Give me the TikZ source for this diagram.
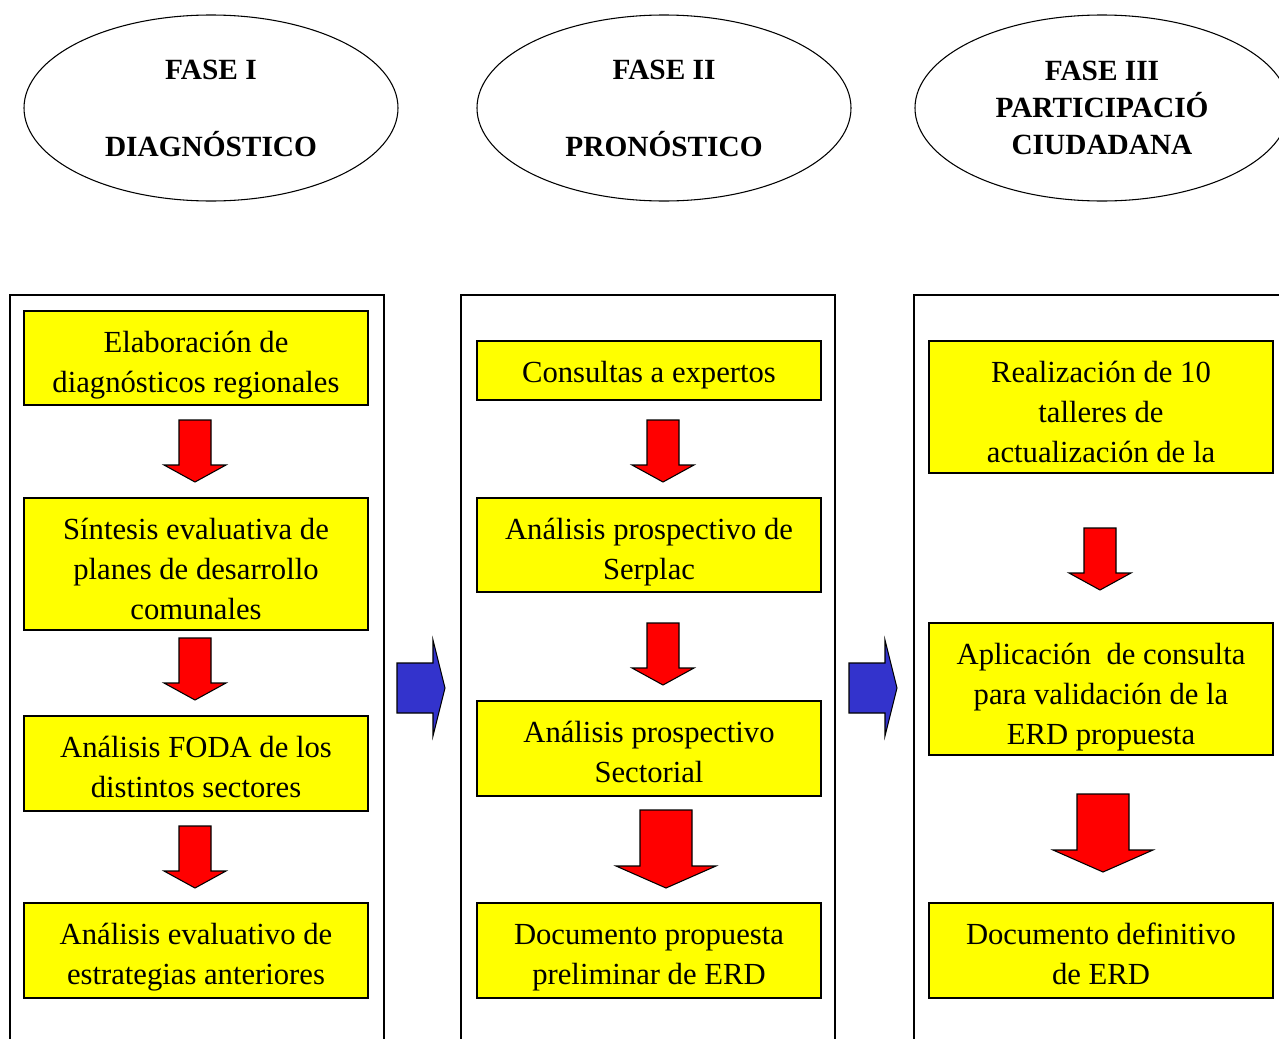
\documentclass[tikz,border=0pt]{standalone}
\usepackage{fontspec}
\setmainfont{Liberation Serif}
\usetikzlibrary{shapes.geometric,positioning,calc}

\definecolor{boxyellow}{RGB}{255,255,0}
\definecolor{arrowred}{RGB}{255,0,0}
\definecolor{arrowblue}{RGB}{51,51,204}

\tikzset{
  fase/.style={ellipse, draw, line width=0.8pt, minimum width=280.5pt, minimum height=139.5pt,
    align=center, font=\fontsize{22}{27.75}\selectfont\bfseries},
  tarea/.style={rectangle, draw, line width=1pt, fill=boxyellow, text width=250pt,
    align=flush center, inner xsep=4pt, inner ysep=0pt, text height=31pt,
    font=\fontsize{23}{30}\selectfont},
  panel/.style={draw, line width=0.8pt},
  redarrow/.style={draw, line width=0.8pt, fill=arrowred},
  bluearrow/.style={draw, line width=0.8pt, fill=arrowblue}
}

\begin{document}
\begin{tikzpicture}[x=0.75pt, y=-0.75pt]
    \useasboundingbox (0,0) rectangle (1279,1039);

    % fases
    \node [fase] (fase1) at (211,108) {FASE I\\[30pt]DIAGNÓSTICO};
    \node [fase] (fase2) at (664,108) {FASE II\\[30pt]PRONÓSTICO};
    \node [fase] (fase3) at (1102,108) {FASE III\\PARTICIPACIÓ\\CIUDADANA};

    % paneles
    \draw [panel] (10,1039) -- (10,295) -- (384,295) -- (384,1039);
    \draw [panel] (461,1039) -- (461,295) -- (835,295) -- (835,1039);
    \draw [panel] (914,1039) -- (914,295) -- (1279,295);

    % fase I
    \node [tarea, text depth=39.5pt] (diag1) at (196,358) {Elaboración de\\diagnósticos regionales};
    \node [tarea, text depth=68pt] (diag2) at (196,564) {Síntesis evaluativa de\\planes de desarrollo\\comunales};
    \node [tarea, text depth=40.25pt] (diag3) at (196,763.5) {Análisis FODA de los\\distintos sectores};
    \node [tarea, text depth=40.25pt] (diag4) at (196,950.5) {Análisis evaluativo de\\estrategias anteriores};

    % fase II
    \node [tarea, text depth=13.25pt] (pron1) at (649,370.5) {Consultas a expertos};
    \node [tarea, text depth=39.5pt] (pron2) at (649,545) {Análisis prospectivo de\\Serplac};
    \node [tarea, text depth=40.25pt] (pron3) at (649,748.5) {Análisis prospectivo\\Sectorial};
    \node [tarea, text depth=40.25pt] (pron4) at (649,950.5) {Documento propuesta\\preliminar de ERD};

    % fase III
    \node [tarea, text depth=68pt] (part1) at (1101,407) {Realización de 10\\talleres de\\actualización de la};
    \node [tarea, text depth=68pt] (part2) at (1101,689) {Aplicación\ \ de consulta\\para validación de la\\ERD propuesta};
    \node [tarea, text depth=40.25pt] (part3) at (1101,950.5) {Documento definitivo\\de ERD};

    % flechas rojas
    \foreach \x/\y in {195/451, 195/669, 195/857, 663/451, 663/654, 1100/559}
        \draw [redarrow, shift={(\x,\y)}] (-16,-31) -- (16,-31) -- (16,14) -- (31,14)
            -- (0,31) -- (-31,14) -- (-16,14) -- cycle;

    \foreach \x/\y in {666/849, 1103/833}
        \draw [redarrow, shift={(\x,\y)}] (-26,-39) -- (26,-39) -- (26,17) -- (50,17)
            -- (0,39) -- (-50,17) -- (-26,17) -- cycle;

    % flechas azules
    \foreach \x in {397,849}
        \draw [bluearrow, shift={(\x,688)}] (0,-25) -- (36,-25) -- (36,-48) -- (48,0)
            -- (36,48) -- (36,25) -- (0,25) -- cycle;
\end{tikzpicture}
\end{document}
